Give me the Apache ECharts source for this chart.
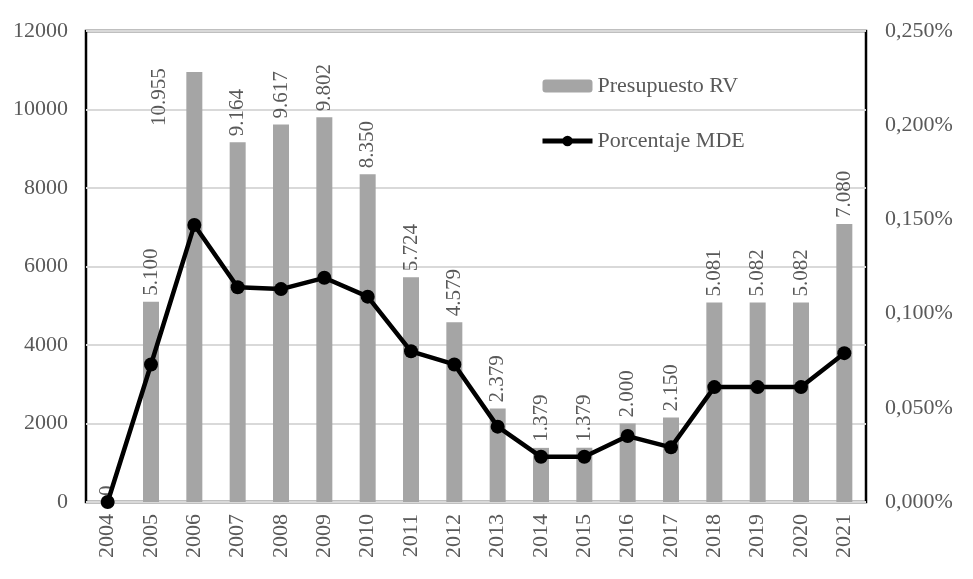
<!DOCTYPE html>
<html>
<head>
<meta charset="utf-8">
<script src="https://cdn.jsdelivr.net/npm/echarts@6/dist/echarts.min.js"></script>
<style>
html,body{margin:0;padding:0;background:#fff;}
#charts{width:973px;height:579px;}
</style>
</head>
<body>
<div id="charts"></div>
<script>
var years = ['2004','2005','2006','2007','2008','2009','2010','2011','2012','2013','2014','2015','2016','2017','2018','2019','2020','2021'];
var presupuesto = [0,5100,10955,9164,9617,9802,8350,5724,4579,2379,1379,1379,2000,2150,5081,5082,5082,7080];
var porcentaje = [0,0.073,0.147,0.114,0.113,0.119,0.109,0.080,0.073,0.040,0.024,0.024,0.035,0.029,0.061,0.061,0.061,0.079];
var leftTicks = ['0','2000','4000','6000','8000','10000','12000'];
var rightTicks = ['0,000%','0,050%','0,100%','0,150%','0,200%','0,250%'];

var serif = '"Liberation Serif","DejaVu Serif",serif';
var grey = '#595959';

function miles(v){
	return String(v).replace(/\B(?=(\d{3})+(?!\d))/g, '.');
}

var barData = [];
for(var i=0;i<presupuesto.length;i++){
	if(years[i]=='2006'){
		//etiqueta movida a la izquierda como en el original
		barData.push({value:presupuesto[i], label:{offset:[-60,-35]}});
	}else{
		barData.push(presupuesto[i]);
	}
}

var charts = echarts.init(document.getElementById('charts'));
var option = {
	animation:false,
	textStyle:{fontFamily:serif},
	legend:{
		orient:'vertical',
		left:535,
		top:70,
		itemWidth:50,
		itemHeight:13,
		itemGap:33,
		textStyle:{fontFamily:serif,fontSize:22,color:grey},
		data:[{name:'Presupuesto RV'},{name:'Porcentaje MDE',lineStyle:{width:5}}]
	},
	grid:{
		left:86,
		right:107,
		top:31,
		bottom:77,
		show:true,
		borderColor:'#000',
		borderWidth:2.5
	},
	xAxis:{
		type:'category',
		data:years,
		axisLine:{show:false},
		axisTick:{show:false},
		axisLabel:{rotate:90,fontSize:22,color:grey,fontFamily:serif,margin:12}
	},
	yAxis:[{
		type:'value',
		min:0,
		max:12000,
		interval:2000,
		axisLine:{show:false},
		axisTick:{show:false},
		splitLine:{lineStyle:{color:'#d9d9d9',width:2}},
		axisLabel:{
			fontSize:22,color:grey,fontFamily:serif,margin:18,
			formatter:function(v){ return leftTicks[Math.round(v/2000)]; }
		}
	},{
		type:'value',
		min:0,
		max:0.25,
		interval:0.05,
		axisLine:{show:false},
		axisTick:{show:false},
		splitLine:{show:false},
		axisLabel:{
			fontSize:22,color:grey,fontFamily:serif,margin:19,
			formatter:function(v){ return rightTicks[Math.round(v/0.05)]; }
		}
	}],
	series:[{
		name:'Presupuesto RV',
		type:'bar',
		data:barData,
		barWidth:16,
		itemStyle:{color:'#A5A5A5'},
		label:{
			show:true,
			position:'top',
			rotate:90,
			align:'left',
			verticalAlign:'middle',
			distance:6,
			fontSize:21,
			color:grey,
			fontFamily:serif,
			formatter:function(p){ return miles(p.value); }
		}
	},{
		name:'Porcentaje MDE',
		type:'line',
		yAxisIndex:1,
		data:porcentaje,
		symbol:'circle',
		symbolSize:14,
		itemStyle:{color:'#000'},
		lineStyle:{color:'#000',width:4.5}
	}]
};
charts.setOption(option);
</script>
</body>
</html>
